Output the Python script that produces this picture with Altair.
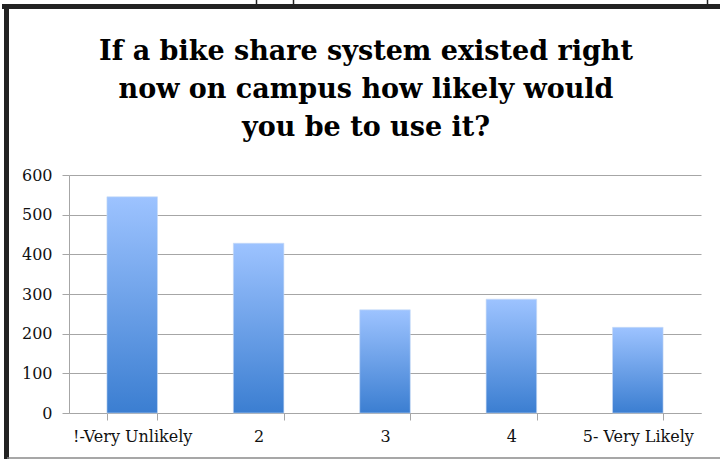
import altair as alt
import pandas as pd

categories = ["!-Very Unlikely", "2", "3", "4", "5- Very Likely"]
counts = [545, 428, 260, 287, 216]

title_lines = [
    "If a bike share system existed right",
    "now on campus how likely would",
    "you be to use it?",
]

df = pd.DataFrame({"response": categories, "count": counts})

SERIF = "DejaVu Serif"
GRID = "#a6a6a6"
one = pd.DataFrame({"k": [0]})

bars = alt.Chart(df).mark_bar(
    color=alt.Gradient(
        gradient="linear",
        stops=[
            alt.GradientStop(color="#9dc3ff", offset=0),
            alt.GradientStop(color="#3b7ed1", offset=1),
        ],
        x1=0, x2=0, y1=0, y2=1,
    ),
    stroke="#c8daf5",
    strokeWidth=0.6,
).encode(
    x=alt.X(
        "response:N",
        sort=None,
        title=None,
        scale=alt.Scale(paddingInner=0.6, paddingOuter=0.3),
        axis=alt.Axis(
            labelAngle=0,
            tickBand="extent",
            tickSize=7,
            tickColor=GRID,
            domainColor=GRID,
            labelFont=SERIF,
            labelFontSize=16,
            labelColor="#111111",
            labelPadding=8,
            grid=False,
        ),
    ),
    y=alt.Y(
        "count:Q",
        title=None,
        scale=alt.Scale(domain=[0, 600], nice=False),
        axis=alt.Axis(
            values=[0, 100, 200, 300, 400, 500, 600],
            tickSize=7,
            tickColor=GRID,
            domainColor=GRID,
            gridColor=GRID,
            gridWidth=1.2,
            labelFont=SERIF,
            labelFontSize=16,
            labelColor="#111111",
            labelPadding=10,
        ),
    ),
)

def title_text(line, y):
    return alt.Chart(one).mark_text(
        font=SERIF, fontSize=27, fontWeight="bold", color="#000000",
        align="center", baseline="alphabetic",
    ).encode(text=alt.value(line), x=alt.value(297), y=alt.value(y))

titles = [
    title_text(title_lines[0], -115),
    title_text(title_lines[1], -77),
    title_text(title_lines[2], -39),
]

frame_top = alt.Chart(one).mark_rule(color="#222222", strokeWidth=5).encode(
    x=alt.value(-67), x2=alt.value(660), y=alt.value(-168.5)
)
frame_left = alt.Chart(one).mark_rule(color="#222222", strokeWidth=5).encode(
    x=alt.value(-62.5), y=alt.value(-171), y2=alt.value(290)
)
frame_bottom = alt.Chart(one).mark_rule(color="#8a8a8a", strokeWidth=1.5).encode(
    x=alt.value(-62), x2=alt.value(660), y=alt.value(283)
)

def top_tick(x):
    return alt.Chart(one).mark_rule(color="#222222", strokeWidth=1.5).encode(
        x=alt.value(x), y=alt.value(-176), y2=alt.value(-170)
    )

chart = alt.layer(
    bars, *titles, frame_top, frame_left, frame_bottom,
    top_tick(187.5), top_tick(224.5), top_tick(638.5),
).properties(
    width=632,
    height=238,
    autosize=alt.AutoSizeParams(type="none"),
    padding={"left": 69, "top": 175, "right": 19, "bottom": 46},
    background="white",
).configure_view(stroke=None)

chart.save("out.html", embed_options={"renderer": "svg", "actions": False})
